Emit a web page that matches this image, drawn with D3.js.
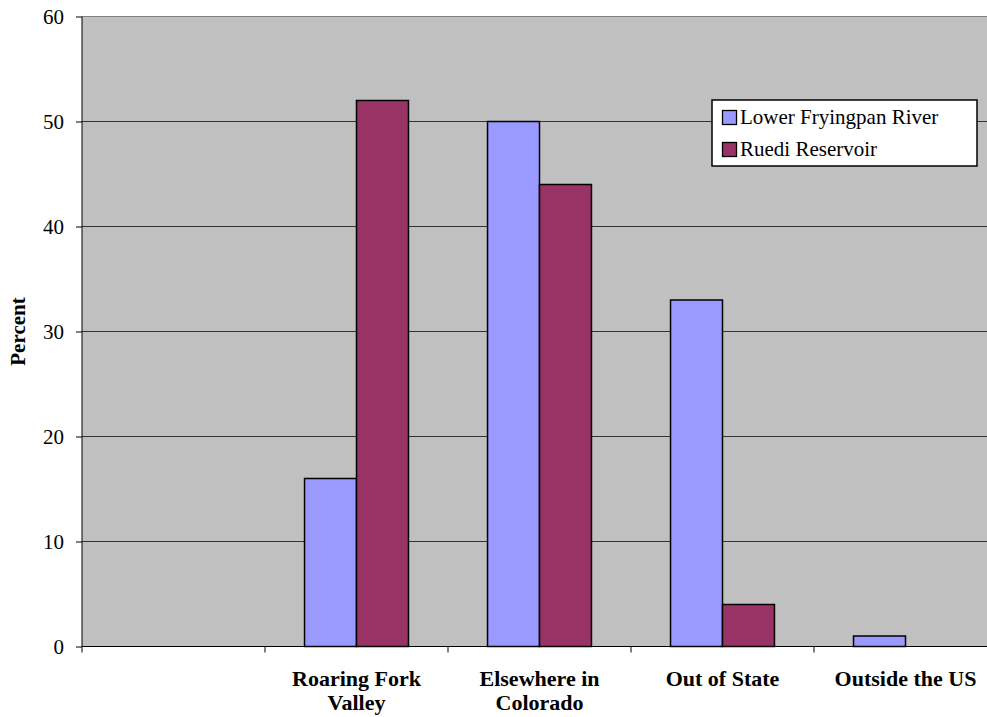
<!DOCTYPE html>
<html>
<head>
<meta charset="utf-8">
<script src="https://cdn.jsdelivr.net/npm/d3@7"></script>
<style>
	body { margin: 0; background: #fff; }
	svg { display: block; font-family: "Liberation Serif", "Times New Roman", serif; }
</style>
</head>
<body>
<svg id="chart" width="987" height="717"></svg>
<script>
// categories (first slot is empty in the original chart)
var categories = ["", "Roaring Fork Valley", "Elsewhere in Colorado", "Out of State", "Outside the US"];
var tickLabels = [[], ["Roaring Fork", "Valley"], ["Elsewhere in", "Colorado"], ["Out of State"], ["Outside the US"]];
var seriesNames = ["Lower Fryingpan River", "Ruedi Reservoir"];
var seriesColors = ["#9999FF", "#993366"];
var lowerFryingpan = [null, 16, 50, 33, 1];
var ruediReservoir = [null, 52, 44, 4, null];
var yTicks = [0, 10, 20, 30, 40, 50, 60];

var svg = d3.select("#chart"),
	margin = { top: 16.5, left: 82, right: -10, bottom: 70.5 },
	width = +svg.attr("width"),
	height = +svg.attr("height");

var x = d3.scaleBand()
	.domain(categories)
	.range([margin.left, width - margin.right])
	.padding(0);

var xSeries = d3.scaleBand()
	.domain(seriesNames)
	.range([x.bandwidth() * 0.216, x.bandwidth() * 0.784])
	.padding(0);

var y = d3.scaleLinear()
	.domain([0, 60])
	.range([height - margin.bottom, margin.top]);

// plot background
svg.append("rect")
	.attr("x", margin.left)
	.attr("y", y(60))
	.attr("width", width - margin.right - margin.left)
	.attr("height", y(0) - y(60))
	.attr("fill", "#C0C0C0");

// gridlines
svg.append("g").selectAll("line")
	.data(yTicks.filter(function(d) { return d > 0; }))
	.enter().append("line")
	.attr("x1", margin.left)
	.attr("x2", width - margin.right)
	.attr("y1", function(d) { return y(d); })
	.attr("y2", function(d) { return y(d); })
	.attr("stroke", function(d) { return d == 60 ? "#808080" : "#333333"; })
	.attr("stroke-width", 1);

// bars
var table = [];
categories.forEach(function(c, i) {
	table.push({ cat: c, series: seriesNames[0], value: lowerFryingpan[i], color: seriesColors[0] });
	table.push({ cat: c, series: seriesNames[1], value: ruediReservoir[i], color: seriesColors[1] });
});

svg.append("g").selectAll("rect")
	.data(table.filter(function(d) { return d.value != null; }))
	.enter().append("rect")
	.attr("x", function(d) { return x(d.cat) + xSeries(d.series); })
	.attr("y", function(d) { return y(d.value); })
	.attr("width", xSeries.bandwidth())
	.attr("height", function(d) { return y(0) - y(d.value); })
	.attr("fill", function(d) { return d.color; })
	.attr("stroke", "#000")
	.attr("stroke-width", 1.5);

// y axis
var yAxis = d3.axisLeft(y).tickValues(yTicks).tickSize(6).tickPadding(12);
var gy = svg.append("g")
	.attr("transform", "translate(" + margin.left + ",0)")
	.call(yAxis);
gy.attr("font-family", "Liberation Serif").attr("font-size", 21);
gy.select(".domain").attr("stroke", "#000").attr("d", "M0," + y(60) + "V" + (y(0) + 6));
gy.selectAll(".tick line").attr("stroke", "#000");
gy.selectAll(".tick text").attr("fill", "#000");

// x axis
var gx = svg.append("g").attr("transform", "translate(0," + y(0) + ")");
gx.append("line")
	.attr("x1", margin.left).attr("x2", width - margin.right)
	.attr("stroke", "#000").attr("stroke-width", 1);
gx.selectAll(".xtick")
	.data(categories.slice(1))
	.enter().append("line")
	.attr("x1", function(d) { return x(d); })
	.attr("x2", function(d) { return x(d); })
	.attr("y1", 0).attr("y2", 6)
	.attr("stroke", "#000");

var labels = gx.selectAll(".xlabel")
	.data(categories)
	.enter().append("text")
	.attr("text-anchor", "middle")
	.attr("font-family", "Liberation Serif")
	.attr("font-weight", "bold")
	.attr("font-size", 22)
	.attr("fill", "#000")
	.attr("transform", function(d) { return "translate(" + (x(d) + x.bandwidth() / 2) + ",39.5)"; });
labels.each(function(d, i) {
	var t = d3.select(this);
	tickLabels[i].forEach(function(line, j) {
		t.append("tspan").attr("x", 0).attr("y", j * 24).text(line);
	});
});

// y title
svg.append("text")
	.attr("transform", "translate(25," + ((y(0) + y(60)) / 2) + ") rotate(-90)")
	.attr("text-anchor", "middle")
	.attr("font-family", "Liberation Serif")
	.attr("font-weight", "bold")
	.attr("font-size", 21)
	.text("Percent");

// legend
var legend = svg.append("g").attr("transform", "translate(712,100)");
legend.append("rect")
	.attr("x", 0).attr("y", 0)
	.attr("width", 265).attr("height", 66)
	.attr("fill", "#fff")
	.attr("stroke", "#000")
	.attr("stroke-width", 1.5);
var item = legend.selectAll(".item")
	.data(seriesNames)
	.enter().append("g")
	.attr("transform", function(d, i) { return "translate(0," + (i * 32) + ")"; });
item.append("rect")
	.attr("x", 10.5).attr("y", 10.5)
	.attr("width", 14).attr("height", 14)
	.attr("fill", function(d, i) { return seriesColors[i]; })
	.attr("stroke", "#000")
	.attr("stroke-width", 1.3);
item.append("text")
	.attr("x", 28).attr("y", 24)
	.attr("font-family", "Liberation Serif")
	.attr("font-size", 21)
	.attr("fill", "#000")
	.text(function(d) { return d; });
</script>
</body>
</html>
